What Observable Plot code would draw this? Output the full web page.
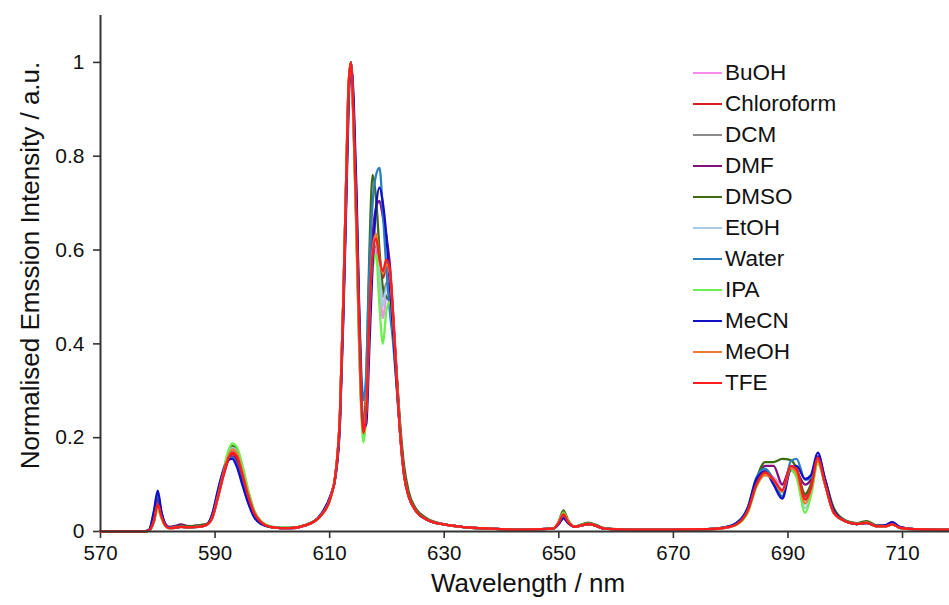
<!DOCTYPE html>
<html>
<head>
<meta charset="utf-8">
<script src="https://cdn.jsdelivr.net/npm/d3@7"></script>
<script src="https://cdn.jsdelivr.net/npm/@observablehq/plot@0.6"></script>
<style>
  body { margin: 0; background: #fff; font-family: "Liberation Sans", Arial, sans-serif; }
  #wrap { position: relative; width: 949px; height: 605px; }
  #legend { position: absolute; left: 693px; top: 57px; }
  .item { display: flex; align-items: center; height: 31.1px; font-size: 22.5px; color: #111; }
  .swatch { width: 29px; height: 2px; margin-right: 3px; }
</style>
</head>
<body>
<div id="wrap"><div id="legend"></div></div>
<script>
// Emission wavelengths (nm), one row per spectral region
const wavelength = [
  570, 577.5, 578.5, 579.3, 580, 580.6, 581.3, 582, 583, 584, 585.5, 587, 588.5,
  589.5, 590.5, 591.5, 592.3, 593, 593.8, 594.8, 595.8, 596.8, 598, 600, 603, 606,
  608.5, 610.2, 611, 611.8, 612.4, 612.9, 613.3, 613.7, 614.2, 614.7, 615.1, 615.5, 615.9,
  616.4, 616.9, 617.5, 618.1, 618.7, 619.3, 619.9, 620.5, 621.1, 621.7, 622.3, 623, 623.8, 625, 627, 629.5,
  633, 638, 643, 649, 650, 650.8, 651.6, 652.8, 654, 655.2, 656.5, 658, 662, 670, 676,
  679, 681, 683, 684.5, 686, 687.5, 689, 690.5, 691.5, 693, 694, 695.2, 696.5, 698,
  700, 702, 703.7, 705.5, 707, 708.2, 709.5, 712, 718
];

const solvents = ["BuOH", "Chloroform", "DCM", "DMF", "DMSO", "EtOH", "Water", "IPA", "MeCN", "MeOH", "TFE"];
const colors = ["#f58cf0", "#d81e1e", "#8a8a8a", "#84107e", "#3d6b14", "#a7cbe6", "#2a7fc2", "#6cf04e", "#1010c8", "#ee7a34", "#ff1c1c"];

// Normalised emission intensity for each solvent
const BuOH = [
  0, 0, 0.002, 0.02, 0.05, 0.03, 0.012, 0.007, 0.008, 0.01, 0.009, 0.01, 0.014,
  0.03, 0.078, 0.13, 0.165, 0.18, 0.172, 0.13, 0.08, 0.043, 0.021, 0.009, 0.007, 0.014,
  0.035, 0.074, 0.12, 0.25, 0.5, 0.75, 0.94, 1.0, 0.86, 0.64, 0.44, 0.28, 0.2,
  0.26, 0.43, 0.57, 0.6, 0.53, 0.455, 0.5, 0.5, 0.43, 0.32, 0.21, 0.12, 0.075, 0.045, 0.025, 0.016,
  0.01, 0.006, 0.004, 0.006, 0.019, 0.036, 0.021, 0.01, 0.013, 0.016, 0.012, 0.006, 0.004, 0.004, 0.005,
  0.008, 0.016, 0.045, 0.1, 0.125, 0.115, 0.1, 0.13, 0.12, 0.06, 0.085, 0.15, 0.1, 0.04,
  0.022, 0.016, 0.019, 0.011, 0.011, 0.015, 0.008, 0.005, 0.004
];
const Chloroform = [
  0, 0, 0.002, 0.024, 0.062, 0.036, 0.013, 0.007, 0.008, 0.01, 0.009, 0.01, 0.014,
  0.028, 0.072, 0.12, 0.152, 0.165, 0.158, 0.12, 0.075, 0.04, 0.02, 0.009, 0.007, 0.014,
  0.034, 0.073, 0.12, 0.25, 0.5, 0.76, 0.95, 1.0, 0.87, 0.65, 0.46, 0.29, 0.21,
  0.26, 0.44, 0.58, 0.61, 0.57, 0.54, 0.565, 0.55, 0.45, 0.33, 0.21, 0.12, 0.075, 0.045, 0.025, 0.016,
  0.01, 0.006, 0.004, 0.006, 0.019, 0.035, 0.021, 0.01, 0.013, 0.016, 0.012, 0.006, 0.004, 0.004, 0.005,
  0.008, 0.015, 0.044, 0.1, 0.125, 0.108, 0.085, 0.138, 0.13, 0.075, 0.095, 0.155, 0.1, 0.04,
  0.022, 0.016, 0.019, 0.011, 0.011, 0.015, 0.008, 0.005, 0.004
];
const DCM = [
  0, 0, 0.003, 0.026, 0.065, 0.037, 0.014, 0.008, 0.009, 0.011, 0.01, 0.011, 0.015,
  0.03, 0.075, 0.125, 0.157, 0.17, 0.162, 0.122, 0.077, 0.041, 0.02, 0.009, 0.007, 0.014,
  0.035, 0.075, 0.12, 0.25, 0.5, 0.75, 0.94, 1.0, 0.86, 0.64, 0.45, 0.29, 0.21,
  0.27, 0.45, 0.59, 0.61, 0.55, 0.5, 0.53, 0.52, 0.44, 0.32, 0.21, 0.12, 0.075, 0.045, 0.025, 0.016,
  0.01, 0.006, 0.004, 0.006, 0.019, 0.035, 0.021, 0.01, 0.013, 0.016, 0.012, 0.006, 0.004, 0.004, 0.005,
  0.008, 0.016, 0.046, 0.102, 0.13, 0.11, 0.09, 0.135, 0.128, 0.07, 0.092, 0.15, 0.1, 0.04,
  0.022, 0.016, 0.019, 0.011, 0.011, 0.015, 0.008, 0.005, 0.004
];
const DMF = [
  0, 0, 0.003, 0.03, 0.07, 0.04, 0.016, 0.01, 0.012, 0.015, 0.011, 0.013, 0.016,
  0.034, 0.08, 0.125, 0.152, 0.16, 0.15, 0.11, 0.068, 0.036, 0.018, 0.009, 0.007, 0.014,
  0.036, 0.077, 0.118, 0.24, 0.48, 0.73, 0.93, 1.0, 0.89, 0.67, 0.48, 0.31, 0.22,
  0.26, 0.46, 0.63, 0.69, 0.705, 0.67, 0.63, 0.57, 0.46, 0.34, 0.22, 0.125, 0.075, 0.045, 0.025, 0.016,
  0.01, 0.006, 0.004, 0.006, 0.018, 0.033, 0.02, 0.01, 0.013, 0.016, 0.012, 0.006, 0.004, 0.004, 0.005,
  0.009, 0.017, 0.05, 0.11, 0.14, 0.14, 0.1, 0.138, 0.128, 0.1, 0.11, 0.16, 0.11, 0.045,
  0.022, 0.016, 0.018, 0.012, 0.013, 0.02, 0.01, 0.005, 0.004
];
const DMSO = [
  0, 0, 0.002, 0.02, 0.055, 0.035, 0.014, 0.009, 0.01, 0.012, 0.011, 0.013, 0.016,
  0.03, 0.078, 0.13, 0.167, 0.182, 0.175, 0.135, 0.085, 0.045, 0.022, 0.01, 0.008, 0.015,
  0.035, 0.075, 0.12, 0.25, 0.5, 0.76, 0.95, 1.0, 0.85, 0.62, 0.42, 0.27, 0.21,
  0.33, 0.58, 0.76, 0.71, 0.6, 0.52, 0.5, 0.49, 0.43, 0.33, 0.23, 0.14, 0.085, 0.05, 0.028, 0.017,
  0.01, 0.006, 0.004, 0.006, 0.022, 0.045, 0.025, 0.011, 0.015, 0.019, 0.014, 0.007, 0.004, 0.004, 0.005,
  0.009, 0.018, 0.05, 0.112, 0.148, 0.148, 0.155, 0.152, 0.135, 0.08, 0.1, 0.15, 0.11, 0.05,
  0.024, 0.018, 0.022, 0.013, 0.012, 0.015, 0.008, 0.005, 0.004
];
const EtOH = [
  0, 0, 0.002, 0.021, 0.052, 0.031, 0.012, 0.007, 0.008, 0.01, 0.009, 0.01, 0.014,
  0.03, 0.077, 0.128, 0.163, 0.178, 0.17, 0.128, 0.08, 0.042, 0.021, 0.009, 0.007, 0.014,
  0.035, 0.075, 0.12, 0.25, 0.5, 0.75, 0.94, 1.0, 0.86, 0.64, 0.45, 0.29, 0.21,
  0.27, 0.45, 0.59, 0.62, 0.55, 0.48, 0.52, 0.52, 0.44, 0.32, 0.21, 0.12, 0.075, 0.045, 0.025, 0.016,
  0.01, 0.006, 0.004, 0.006, 0.019, 0.037, 0.021, 0.01, 0.013, 0.016, 0.012, 0.006, 0.004, 0.004, 0.005,
  0.008, 0.015, 0.044, 0.098, 0.12, 0.112, 0.09, 0.13, 0.118, 0.05, 0.08, 0.145, 0.1, 0.04,
  0.022, 0.016, 0.019, 0.011, 0.011, 0.015, 0.008, 0.005, 0.004
];
const Water = [
  0, 0, 0.004, 0.04, 0.08, 0.042, 0.015, 0.008, 0.008, 0.01, 0.009, 0.01, 0.014,
  0.036, 0.087, 0.132, 0.155, 0.158, 0.142, 0.102, 0.062, 0.032, 0.017, 0.009, 0.007, 0.014,
  0.037, 0.078, 0.117, 0.235, 0.47, 0.72, 0.92, 1.0, 0.9, 0.7, 0.5, 0.35, 0.28,
  0.34, 0.55, 0.7, 0.76, 0.775, 0.68, 0.56, 0.47, 0.4, 0.31, 0.21, 0.12, 0.075, 0.045, 0.025, 0.016,
  0.01, 0.006, 0.004, 0.006, 0.017, 0.03, 0.019, 0.01, 0.013, 0.016, 0.012, 0.006, 0.004, 0.004, 0.005,
  0.009, 0.018, 0.052, 0.115, 0.134, 0.11, 0.075, 0.15, 0.155, 0.11, 0.115, 0.155, 0.1, 0.04,
  0.022, 0.016, 0.019, 0.011, 0.011, 0.015, 0.008, 0.005, 0.004
];
const IPA = [
  0, 0, 0.002, 0.019, 0.048, 0.029, 0.012, 0.007, 0.008, 0.01, 0.009, 0.01, 0.014,
  0.03, 0.078, 0.133, 0.172, 0.188, 0.18, 0.14, 0.088, 0.046, 0.022, 0.01, 0.008, 0.015,
  0.034, 0.073, 0.12, 0.25, 0.5, 0.76, 0.95, 1.0, 0.85, 0.62, 0.42, 0.26, 0.19,
  0.25, 0.42, 0.56, 0.59, 0.48, 0.4, 0.47, 0.49, 0.42, 0.32, 0.21, 0.12, 0.075, 0.045, 0.025, 0.016,
  0.01, 0.006, 0.004, 0.006, 0.02, 0.04, 0.023, 0.01, 0.014, 0.017, 0.012, 0.006, 0.004, 0.004, 0.005,
  0.008, 0.014, 0.04, 0.095, 0.12, 0.11, 0.085, 0.13, 0.115, 0.04, 0.075, 0.145, 0.1, 0.04,
  0.022, 0.016, 0.019, 0.011, 0.011, 0.015, 0.008, 0.005, 0.004
];
const MeCN = [
  0, 0, 0.004, 0.042, 0.087, 0.045, 0.016, 0.008, 0.008, 0.01, 0.009, 0.01, 0.014,
  0.037, 0.088, 0.133, 0.153, 0.155, 0.138, 0.098, 0.06, 0.031, 0.016, 0.009, 0.007, 0.014,
  0.037, 0.078, 0.115, 0.23, 0.46, 0.7, 0.9, 1.0, 0.92, 0.72, 0.5, 0.31, 0.22,
  0.23, 0.38, 0.57, 0.69, 0.733, 0.7, 0.63, 0.53, 0.42, 0.31, 0.21, 0.12, 0.075, 0.045, 0.025, 0.016,
  0.01, 0.006, 0.004, 0.006, 0.016, 0.028, 0.018, 0.01, 0.013, 0.016, 0.012, 0.006, 0.004, 0.004, 0.005,
  0.009, 0.018, 0.05, 0.112, 0.128, 0.1, 0.07, 0.135, 0.14, 0.112, 0.12, 0.168, 0.11, 0.045,
  0.022, 0.016, 0.018, 0.012, 0.013, 0.02, 0.01, 0.005, 0.004
];
const MeOH = [
  0, 0, 0.002, 0.021, 0.055, 0.032, 0.012, 0.007, 0.008, 0.01, 0.009, 0.01, 0.014,
  0.03, 0.076, 0.127, 0.16, 0.175, 0.167, 0.125, 0.079, 0.042, 0.021, 0.009, 0.007, 0.014,
  0.035, 0.075, 0.12, 0.25, 0.5, 0.75, 0.94, 1.0, 0.86, 0.64, 0.45, 0.29, 0.21,
  0.26, 0.44, 0.6, 0.635, 0.58, 0.55, 0.57, 0.55, 0.45, 0.33, 0.21, 0.12, 0.075, 0.045, 0.025, 0.016,
  0.01, 0.006, 0.004, 0.006, 0.02, 0.038, 0.022, 0.01, 0.013, 0.016, 0.012, 0.006, 0.004, 0.004, 0.005,
  0.008, 0.015, 0.043, 0.098, 0.12, 0.11, 0.085, 0.135, 0.125, 0.06, 0.088, 0.15, 0.1, 0.04,
  0.022, 0.016, 0.019, 0.011, 0.011, 0.015, 0.008, 0.005, 0.004
];
const TFE = [
  0, 0, 0.002, 0.022, 0.058, 0.034, 0.013, 0.007, 0.008, 0.01, 0.009, 0.01, 0.014,
  0.029, 0.073, 0.122, 0.155, 0.168, 0.16, 0.12, 0.075, 0.04, 0.02, 0.009, 0.007, 0.014,
  0.034, 0.073, 0.12, 0.25, 0.5, 0.76, 0.95, 1.0, 0.87, 0.66, 0.46, 0.29, 0.21,
  0.26, 0.45, 0.59, 0.625, 0.58, 0.555, 0.58, 0.56, 0.46, 0.33, 0.21, 0.12, 0.075, 0.045, 0.025, 0.016,
  0.01, 0.006, 0.004, 0.006, 0.019, 0.036, 0.021, 0.01, 0.013, 0.016, 0.012, 0.006, 0.004, 0.004, 0.005,
  0.008, 0.015, 0.045, 0.1, 0.126, 0.11, 0.088, 0.14, 0.133, 0.068, 0.092, 0.157, 0.1, 0.04,
  0.022, 0.016, 0.019, 0.011, 0.011, 0.015, 0.008, 0.005, 0.004
];

const xTicks = [570, 590, 610, 630, 650, 670, 690, 710];
const yTicks = [0, 0.2, 0.4, 0.6, 0.8, 1];
const xTitle = "Wavelength / nm";
const yTitle = "Normalised Emssion Intensity / a.u.";

const spectra = { BuOH, Chloroform, DCM, DMF, DMSO, EtOH, Water, IPA, MeCN, MeOH, TFE };

// long-format table: one row per (solvent, wavelength)
const rows = solvents.flatMap(s => spectra[s].map((v, i) => ({ solvent: s, nm: wavelength[i], value: v })));

const font = "'Liberation Sans', Arial, sans-serif";

const chart = Plot.plot({
  width: 949,
  height: 605,
  marginLeft: 100,
  marginRight: 0,
  marginTop: 15,
  marginBottom: 74,
  style: { fontFamily: font, color: "#111", background: "#fff" },
  x: { domain: [570, 718.2], ticks: xTicks },
  y: { domain: [0, 1.1], ticks: yTicks },
  color: { domain: solvents, range: colors },
  marks: [
    Plot.axisX({ ticks: xTicks, tickSize: 7, tickPadding: 7, stroke: "#333", strokeWidth: 1.6,
      label: null, fontSize: 20.5 }),
    Plot.axisY({ ticks: yTicks, tickSize: 7, tickPadding: 9, stroke: "#333", strokeWidth: 1.6,
      tickFormat: d => String(d), label: null, fontSize: 21 }),
    Plot.text([xTitle], { frameAnchor: "bottom", dx: 3, dy: 60, fontSize: 26, fill: "#111" }),
    Plot.text([yTitle], { frameAnchor: "left", dx: -70, dy: -8, rotate: -90, textAnchor: "middle", fontSize: 26, fill: "#111" }),
    Plot.line(rows, { x: "nm", y: "value", z: "solvent", stroke: "solvent", strokeWidth: 2.3, curve: "monotone-x" }),
    Plot.ruleX([570], { stroke: "#333", strokeWidth: 2 }),
    Plot.ruleY([0], { stroke: "#333", strokeWidth: 2 })
  ]
});

const wrap = document.getElementById("wrap");
wrap.insertBefore(chart, wrap.firstChild);

const legend = document.getElementById("legend");
solvents.forEach((s, i) => {
  const item = document.createElement("div");
  item.className = "item";
  const sw = document.createElement("span");
  sw.className = "swatch";
  sw.style.background = colors[i];
  const label = document.createElement("span");
  label.textContent = s;
  item.appendChild(sw);
  item.appendChild(label);
  legend.appendChild(item);
});
</script>
</body>
</html>
